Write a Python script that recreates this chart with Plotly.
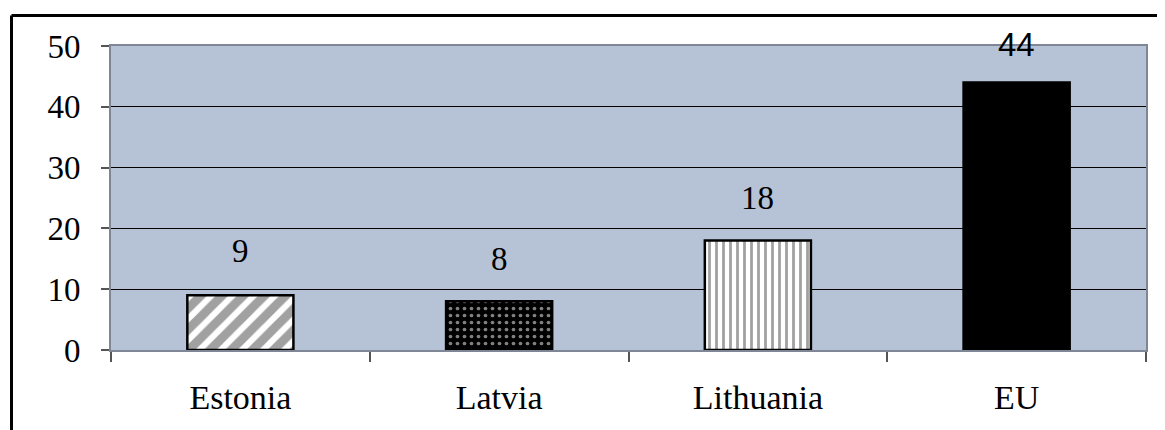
import plotly.graph_objects as go

categories = ["Estonia", "Latvia", "Lithuania", "EU"]
values = [9, 8, 18, 44]
y_ticks = [0, 10, 20, 30, 40, 50]

# page body has an 8px offset; compensate so plot area lands at x 111..1146, y 46..350
OFF = 8
W, H = 1165 - OFF, 430 - OFF
L, R, T, B = 111 - OFF, 19, 46 - OFF, 80
pw, ph = W - L - R, H - T - B

bar_colors = ["white", "black", "white", "black"]
pat_shapes = ["/", ".", "|", ""]
pat_fg = ["black", "#ffffff", "black", "black"]
pat_size = [15, 7, 7, 8]
pat_solid = [0.6, 0.22, 0.4, 0.3]

SERIF = "Liberation Serif, Times New Roman, serif"
SANS = "Liberation Sans, Arial, sans-serif"

fig = go.Figure()
fig.add_trace(go.Bar(
    x=categories, y=values, width=0.41,
    marker=dict(color=bar_colors, line=dict(color="black", width=2.5),
                pattern=dict(shape=pat_shapes, fgcolor=pat_fg, size=pat_size,
                             solidity=pat_solid, fillmode="overlay")),
    showlegend=False, hoverinfo="skip",
))

label_fonts = [SERIF, SERIF, SERIF, SANS]
label_shift = [44, 42, 43, 38]
for c, v, f, s in zip(categories, values, label_fonts, label_shift):
    fig.add_annotation(x=c, y=v, text=str(v), showarrow=False, yshift=s,
                       yanchor="middle", font=dict(family=f, size=33, color="black"))

# outer frame (top and left thick lines) at screen y=15.5, x=11.5
fx = (11.5 - OFF - L) / pw
fy = (H - B - (15.5 - OFF)) / ph
fig.add_shape(type="line", xref="paper", yref="paper", x0=fx, x1=(W - L) / pw + 0.02,
              y0=fy, y1=fy, line=dict(color="black", width=3))
fig.add_shape(type="line", xref="paper", yref="paper", x0=fx, x1=fx,
              y0=fy, y1=-(B + 10) / ph, line=dict(color="black", width=3))

fig.update_layout(
    width=W, height=H,
    margin=dict(l=L, r=R, t=T, b=B),
    paper_bgcolor="white", plot_bgcolor="#b6c3d7",
    font=dict(family=SERIF, size=33, color="black"),
)
fig.update_xaxes(
    type="category", tickson="boundaries", ticks="outside", ticklen=10, tickwidth=1.5,
    tickcolor="#555555", showline=True, linecolor="#7f8696", linewidth=2, mirror=True,
    showgrid=False, ticklabelstandoff=16, tickfont=dict(family=SERIF, size=34),
)
fig.update_yaxes(
    range=[0, 50], tickvals=y_ticks, ticks="outside", ticklen=8, tickwidth=1.5,
    tickcolor="#555555", showline=True, linecolor="#7f8696", linewidth=2, mirror=True,
    showgrid=True, gridcolor="black", gridwidth=1, zeroline=False,
    ticklabelstandoff=14, tickfont=dict(family=SERIF, size=33),
)

fig.write_html("out.html")
